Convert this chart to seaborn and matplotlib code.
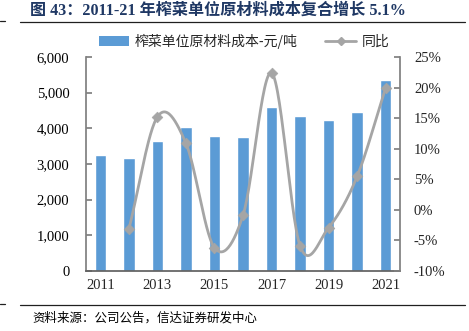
import numpy as np
import pandas as pd
import matplotlib
matplotlib.use("Agg")
import matplotlib.pyplot as plt
from matplotlib.lines import Line2D
from matplotlib.patches import Patch
import seaborn as sns

years = [2011, 2012, 2013, 2014, 2015, 2016, 2017, 2018, 2019, 2020, 2021]
cost = [3260, 3160, 3645, 4037, 3793, 3757, 4606, 4345, 4224, 4458, 5355]
yoy_years = [2012, 2013, 2014, 2015, 2016, 2017, 2018, 2019, 2020, 2021]
yoy = [-3.2, 15.2, 10.9, -6.2, -0.9, 22.4, -5.9, -2.9, 5.5, 20.0]
left_ticks = [0, 1000, 2000, 3000, 4000, 5000, 6000]
right_ticks = [-10, -5, 0, 5, 10, 15, 20, 25]
xtick_years = [2011, 2013, 2015, 2017, 2019, 2021]

title = "图 43：2011-21 年榨菜单位原材料成本复合增长 5.1%"
bar_label = "榨菜单位原材料成本-元/吨"
line_label = "同比"
source = "资料来源：公司公告，信达证券研发中心"

sns.set_theme(style="white")
serif = ["Liberation Serif", "Noto Sans CJK SC", "DejaVu Sans"]
plt.rcParams["font.family"] = serif

BLUE = "#5B9BD5"
GRAY = "#A5A5A5"
AX = "#808080"

fig = plt.figure(figsize=(4.69, 3.31), dpi=100)
ax = fig.add_axes([86/469, 1-271/331, (400-86)/469, (271-57)/331])

df = pd.DataFrame({"year": years, "cost": cost})
df["pos"] = np.arange(len(years))
sns.barplot(data=df, x="pos", y="cost", color=BLUE, width=0.4, ax=ax,
            native_scale=True, saturation=1)
ax.set_xlim(-0.5, len(years) - 0.5)
ax.set_ylim(0, 6000)
ax.set_yticks(left_ticks)
ax.set_yticklabels([f"{v:,}" for v in left_ticks], fontsize=10.5, color="#000000")
pos_of = {y: i for i, y in enumerate(years)}
ax.set_xticks([pos_of[y] for y in xtick_years])
ax.set_xticklabels([str(y) for y in xtick_years], fontsize=10.5)
ax.set_xlabel("")
ax.set_ylabel("")
ax.tick_params(axis="y", direction="in", length=4, color=AX, pad=12)
ax.tick_params(axis="x", length=0, pad=6)
for s in ["top", "right"]:
    ax.spines[s].set_visible(False)
ax.spines["left"].set_color(AX)
ax.spines["bottom"].set_color("#606060")

ax2 = ax.twinx()
xp = np.array([pos_of[y] for y in yoy_years], dtype=float)
yp = np.array(yoy, dtype=float)
# Catmull-Rom style smoothing for display
k = 1.0
px = np.concatenate([[2*xp[0]-xp[1]], xp, [2*xp[-1]-xp[-2]]])
py = np.concatenate([[2*yp[0]-yp[1]], yp, [2*yp[-1]-yp[-2]]])
sx, sy = [], []
t = np.linspace(0, 1, 30)
def bez(a, b, c, d):
    c1 = b + k*(c - a)/6
    c2 = c - k*(d - b)/6
    return (1-t)**3*b + 3*(1-t)**2*t*c1 + 3*(1-t)*t**2*c2 + t**3*c
for i in range(1, len(px)-2):
    sx.append(bez(px[i-1], px[i], px[i+1], px[i+2]))
    sy.append(bez(py[i-1], py[i], py[i+1], py[i+2]))
sx = np.concatenate(sx); sy = np.concatenate(sy)
ax2.plot(sx, sy, color=GRAY, lw=2.0, solid_capstyle="round", zorder=3)
sns.scatterplot(x=xp, y=yp, marker="D", s=30, color=GRAY, edgecolor=GRAY, ax=ax2, zorder=4)
ax2.set_ylim(-10, 25)
ax2.set_yticks(right_ticks)
ax2.set_yticklabels([f"{v}%" for v in right_ticks], fontsize=10.5)
ax2.tick_params(axis="y", direction="in", length=4, color=AX, pad=10)
for s in ["top", "left", "bottom"]:
    ax2.spines[s].set_visible(False)
ax2.spines["right"].set_color(AX)
ax2.set_xlim(-0.5, len(years) - 0.5)
ax2.grid(False); ax.grid(False)

handles = [Patch(facecolor=BLUE, edgecolor="none"),
           Line2D([0], [0], color=GRAY, lw=2, marker="D", markersize=4)]
fig.legend(handles, [bar_label, line_label], loc="center", bbox_to_anchor=(0.52, 1-41/331),
           ncol=2, frameon=False, fontsize=10, handlelength=2.2, columnspacing=2.0,
           handletextpad=0.4, prop={"family": ["Noto Sans CJK SC", "Liberation Serif"], "size": 10})

fig.text(30/469, 1-11/331, title, fontsize=11.6, fontweight="bold", color="#1F3864",
         ha="left", va="center", family=serif)
fig.add_artist(Line2D([20/469, 465/469], [1-22/331, 1-22/331], color="#202020", lw=0.9))
fig.add_artist(Line2D([0, 5/469], [1-21/331, 1-21/331], color="#202020", lw=0.9))
fig.add_artist(Line2D([20/469, 465/469], [1-305/331, 1-305/331], color="#202020", lw=0.9))
fig.add_artist(Line2D([0, 5/469], [1-304/331, 1-304/331], color="#202020", lw=0.9))
fig.text(32/469, 1-318/331, source, fontsize=9, style="italic", color="#000000",
         ha="left", va="center", family=["Noto Sans CJK SC", "DejaVu Sans"])

fig.savefig("out.png", dpi=100)
